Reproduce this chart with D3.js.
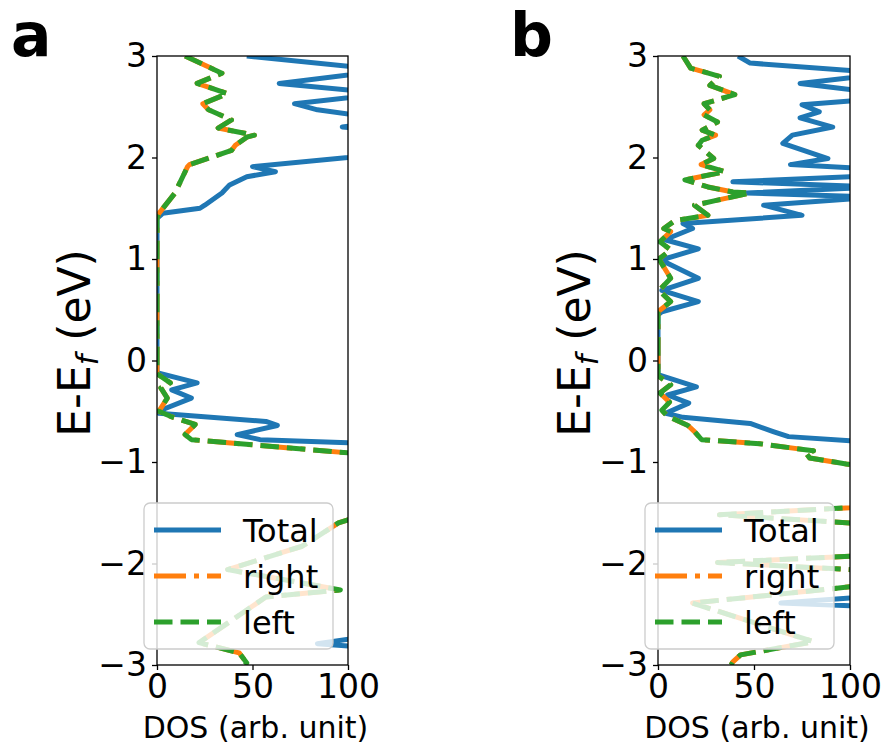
<!DOCTYPE html>
<html><head><meta charset="utf-8">
<script src="https://cdn.jsdelivr.net/npm/d3@7"></script>
<style>body{margin:0;background:#fff}svg{display:block}text{font-family:"DejaVu Sans",sans-serif}</style>
</head><body>
<script>
// ---------- data ----------
const panelLabels = ["a", "b"];
const seriesNames = ["Total", "right", "left"];
const xTicks = [0, 50, 100];
const yTicks = [3, 2, 1, 0, -1, -2, -3];

// panel a
const aTotalE   = [3.00,2.86,2.73,2.63,2.53,2.47,2.39,2.33,2.30,2.27,2.10,2.00,1.91,1.86,1.81,1.73,1.65,1.53,1.50,1.45,1.40,-0.12,-0.22,-0.29,-0.37,-0.49,-0.52,-0.60,-0.64,-0.73,-0.78,-0.81,-0.90,-1.50,-2.50,-2.72,-2.79,-2.84,-3.00];
const aTotalDOS = [47,120,64,120,72,84,115,110,97,115,130,100,50,62,47,38,34,25,22.5,3,0,0,21,7.7,18,2,1,57,63,42,54,101,140,160,150,110,84,120,140];
const aSideE    = [3.00,2.83,2.73,2.63,2.53,2.47,2.37,2.29,2.22,2.20,2.12,2.07,1.93,1.91,1.65,1.45,1.40,-0.13,-0.22,-0.27,-0.37,-0.50,-0.55,-0.63,-0.73,-0.78,-0.91,-0.95,-1.45,-1.60,-1.83,-2.06,-2.26,-2.33,-2.78,-2.88,-2.98,-3.00];
const aRightDOS = [14.7,34,21,37,24,27,39,32,51,47,41,39,17,16,9.4,1,0,0,7,2,5.4,1,7,20,14.7,18,100,120,120,95,76,37,96,57,22,43,47,46];
const aLeftDOS  = [14.7,34,21,37,24,27,39,32,51,47,41,39,17,16,9.4,1,0,0,7,2,5.4,1,7,20,14.7,18,100,120,120,95,76,37,96,57,22,43,47,46];

// panel b
const bTotalE   = [3.00,2.93,2.83,2.73,2.67,2.62,2.57,2.52,2.45,2.39,2.30,2.22,2.14,1.99,1.93,1.89,1.82,1.76,1.71,1.65,1.61,1.53,1.43,1.35,1.30,1.19,1.10,0.99,0.81,0.69,0.58,0.48,0.45,-0.14,-0.26,-0.34,-0.42,-0.52,-0.56,-0.62,-0.70,-0.75,-0.79,-0.85,-2.30,-2.39,-2.43,-3.00];
const bTotalDOS = [41.7,48,120,74,100,115,110,75,84,74,91,70,65,88.5,69,110,110,39,115,46,115,55,75,13,18,3.6,21,1.5,21,2,21,2,0,0,20,5,16,4,13,48,60,68,100,130,130,64,120,140];
const bSideE    = [3.00,2.88,2.80,2.71,2.62,2.53,2.47,2.42,2.35,2.27,2.22,2.17,2.12,1.99,1.93,1.86,1.78,1.71,1.66,1.65,1.58,1.53,1.43,1.38,1.30,1.27,1.17,1.09,1.00,0.81,0.69,0.58,0.48,-0.15,-0.24,-0.32,-0.41,-0.49,-0.55,-0.64,-0.70,-0.78,-0.82,-0.89,-0.91,-0.96,-1.02,-1.10,-1.40,-1.45,-1.52,-1.60,-1.65,-1.92,-1.99,-2.06,-2.15,-2.23,-2.39,-2.77,-2.90,-2.97,-3.00];
const bRightDOS = [13,17,32,27,40,24,27,24,31,23,30,23,21,29,22.5,35,14,26,39,48,31,19,26,9,3,6.6,1,6.6,0.5,6.6,0.5,6.6,0,0,6.6,1,6,2,5,15.6,19,22.7,53,81,77,79,98,130,120,100,32,100,120,110,31,100,120,100,18,81,43,39,38];
const bLeftDOS  = [13,17,32,27,40,24,27,24,31,23,30,23,21,29,22.5,35,14,26,39,48,31,19,26,9,3,6.6,1,6.6,0.5,6.6,0.5,6.6,0,0,6.6,1,6,2,5,15.6,19,22.7,53,81,77,79,98,130,120,100,32,100,120,110,31,100,120,100,18,81,43,39,38];

const colors = ["#1f77b4", "#ff7f0e", "#2ca02c"];
const dashes = [null, "32,8,5,8", "18.5,8"];

// ---------- drawing ----------
const W = 886, H = 749;
const svg = d3.select("body").append("svg").attr("width", W).attr("height", H);

const panels = [
  {label: panelLabels[0], left: 157, right: 348, labelX: 11, ylabX: 74,
   series: [[aTotalE, aTotalDOS], [aSideE, aRightDOS], [aSideE, aLeftDOS]]},
  {label: panelLabels[1], left: 658, right: 850, labelX: 510, ylabX: 574,
   series: [[bTotalE, bTotalDOS], [bSideE, bRightDOS], [bSideE, bLeftDOS]]}
];
const plotTop = 56, plotBottom = 665;

panels.forEach((p, pi) => {
  const x = d3.scaleLinear().domain([0, 100]).range([p.left, p.right]);
  const y = d3.scaleLinear().domain([-3, 3]).range([plotBottom, plotTop]);
  const g = svg.append("g");
  const clipId = "clip" + pi;
  g.append("clipPath").attr("id", clipId).append("rect")
    .attr("x", p.left).attr("y", plotTop).attr("width", p.right - p.left).attr("height", plotBottom - plotTop);

  const line = d3.line().x(d => x(d[1])).y(d => y(d[0])).curve(d3.curveLinear);
  const lg = g.append("g").attr("clip-path", `url(#${clipId})`);
  p.series.forEach((s, si) => {
    const pts = s[0].map((e, i) => [e, s[1][i]]);
    lg.append("path").datum(pts).attr("d", line)
      .attr("fill", "none").attr("stroke", colors[si]).attr("stroke-width", 5)
      .attr("stroke-linejoin", "round").attr("stroke-linecap", "butt")
      .attr("stroke-dasharray", dashes[si]);
  });

  // axes
  const xa = g.append("g").attr("transform", `translate(0,${plotBottom})`)
    .call(d3.axisBottom(x).tickValues(xTicks).tickSize(5).tickPadding(5).tickFormat(d3.format("d")));
  const ya = g.append("g").attr("transform", `translate(${p.left},0)`)
    .call(d3.axisLeft(y).tickValues(yTicks).tickSize(5).tickPadding(5).tickFormat(d => d < 0 ? "\u2212" + Math.abs(d) : d));
  [xa, ya].forEach(a => {
    a.select(".domain").remove();
    a.selectAll("line").attr("stroke", "#000").attr("stroke-width", 1.3);
    a.selectAll("text").attr("font-size", 33).attr("fill", "#000").attr("font-family", "DejaVu Sans");
  });
  g.append("rect").attr("x", p.left).attr("y", plotTop).attr("width", p.right - p.left).attr("height", plotBottom - plotTop)
    .attr("fill", "none").attr("stroke", "#000").attr("stroke-width", 1.3);

  // legend
  const lx = p.left - 13, ly = 503, lw = 189, lh = 146;
  const leg = g.append("g");
  leg.append("rect").attr("x", lx).attr("y", ly).attr("width", lw).attr("height", lh)
    .attr("rx", 6).attr("fill", "#fff").attr("fill-opacity", 0.8).attr("stroke", "#ccc").attr("stroke-width", 1.3);
  seriesNames.forEach((n, i) => {
    const cy = 530 + i * 46;
    leg.append("line").attr("x1", lx + 10).attr("x2", lx + 77).attr("y1", cy).attr("y2", cy)
      .attr("stroke", colors[i]).attr("stroke-width", 5).attr("stroke-dasharray", dashes[i]);
    leg.append("text").attr("x", lx + 99).attr("y", cy).attr("dy", "0.36em")
      .attr("font-size", 32).text(n);
  });

  // x label
  g.append("text").attr("x", (p.left + p.right) / 2 + 3).attr("y", 738).attr("text-anchor", "middle")
    .attr("font-size", 30).text("DOS (arb. unit)");
  // y label
  const yl = g.append("text").attr("transform", `translate(${p.ylabX},343) rotate(-90)`)
    .attr("text-anchor", "middle").attr("dy", "0.36em").attr("font-size", 44);
  yl.append("tspan").text("E-E");
  yl.append("tspan").attr("font-style", "italic").attr("font-size", 30).attr("dy", 8).text("f");
  yl.append("tspan").attr("dy", -8).text(" (eV)");
  // panel label
  g.append("text").attr("x", p.labelX).attr("y", 56).attr("font-family", "Liberation Sans, Arial, sans-serif")
    .attr("font-weight", "bold").attr("font-size", 60).text(p.label);
});
</script>
</body></html>
